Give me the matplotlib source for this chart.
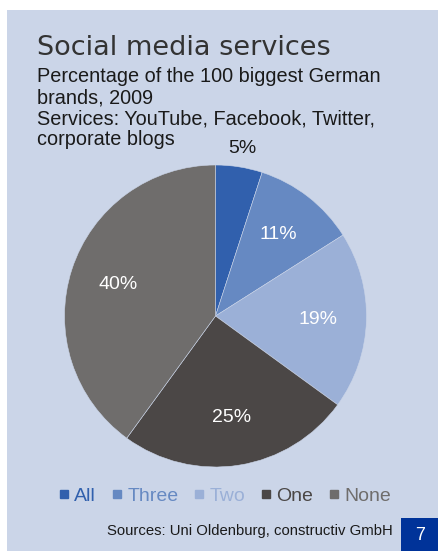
import matplotlib.pyplot as plt
from matplotlib.lines import Line2D
from matplotlib.patches import Rectangle

# share of brands by number of services used
categories = ["All", "Three", "Two", "One", "None"]
shares = [5, 11, 19, 25, 40]
colors = ["#3160AD", "#6689C2", "#9BB0D7", "#4B4746", "#6F6D6C"]

title = "Social media services"
subtitle = ["Percentage of the 100 biggest German", "brands, 2009",
            "Services: YouTube, Facebook, Twitter,", "corporate blogs"]
source = "Sources: Uni Oldenburg, constructiv GmbH"
page = "7"

W, H = 439, 551
fig = plt.figure(figsize=(W / 100, H / 100), dpi=100)
fig.patch.set_facecolor("white")

# slide panel and page number box
fig.patches.append(Rectangle((7 / W, 0), 1, (H - 10) / H, transform=fig.transFigure,
                             facecolor="#CBD5E8", edgecolor="none", zorder=-2))
fig.patches.append(Rectangle((401 / W, 0), 1, 33 / H, transform=fig.transFigure,
                             facecolor="#003399", edgecolor="none", zorder=-1))
fig.text(420 / W, 1 - 536 / H, page, color="white", fontsize=13,
         family="Liberation Sans", ha="center", va="center")

fig.text(37 / W, 1 - 55 / H, title, fontsize=19.5, color="#333333",
         family="DejaVu Sans", ha="left", va="baseline")
y = 82
for line in subtitle:
    fig.text(37 / W, 1 - y / H, line, fontsize=14.3, color="#1a1a1a",
             family="Liberation Sans", ha="left", va="baseline")
    y += 21

# pie
r = 151
cx, cy = 215.5, 316
ax = fig.add_axes([(cx - r) / W, (H - cy - r) / H, 2 * r / W, 2 * r / H])
ax.set_zorder(1)
wedges, texts, autotexts = ax.pie(
    shares, colors=colors, startangle=90, counterclock=False, radius=1,
    autopct=lambda p: f"{p:.0f}%", pctdistance=0.68,
    wedgeprops=dict(edgecolor="#CBD5E8", linewidth=0.4),
    textprops=dict(color="white", fontsize=14, family="Liberation Sans"))
ax.set_xlim(-1, 1)
ax.set_ylim(-1, 1)
ax.set_aspect("equal")
ax.axis("off")
# small slice gets its label outside
x0, y0 = autotexts[0].get_position()
autotexts[0].set_position((x0 / 0.68 * 1.12, y0 / 0.68 * 1.12))
autotexts[0].set_color("#1a1a1a")

handles = [Line2D([], [], marker="s", linestyle="none", markersize=6,
                  markerfacecolor=c, markeredgecolor=c) for c in colors]
leg = fig.legend(handles, categories, loc="center", ncol=5, frameon=False,
                 bbox_to_anchor=(225 / W, 1 - 496 / H), handlelength=0.5,
                 handletextpad=0.3, columnspacing=0.8,
                 prop=dict(family="Liberation Sans", size=14))
for txt, c in zip(leg.get_texts(), colors):
    txt.set_color(c)

fig.text(393 / W, 1 - 531 / H, source, fontsize=10.7, color="#1a1a1a",
         family="Liberation Sans", ha="right", va="center")

fig.savefig("out.png", dpi=100)
